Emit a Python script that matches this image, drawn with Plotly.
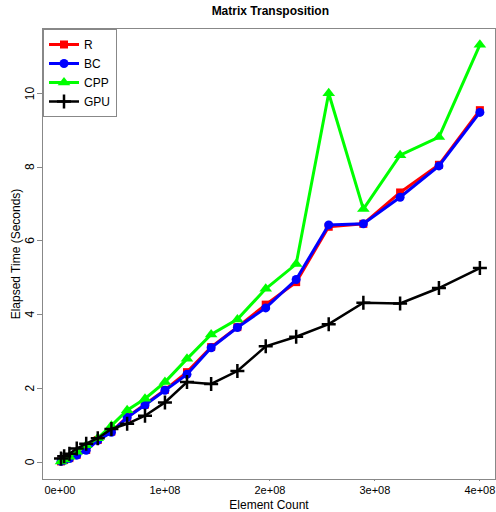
import plotly.graph_objects as go

element_count = [1e6, 4e6, 9e6, 1.6e7, 2.5e7, 3.6e7, 4.9e7, 6.4e7, 8.1e7, 1.0e8,
                 1.21e8, 1.44e8, 1.69e8, 1.96e8, 2.25e8, 2.56e8, 2.89e8, 3.24e8, 3.61e8, 4.0e8]

r_vals   = [0.02, 0.06, 0.11, 0.20, 0.33, 0.60, 0.83, 1.22, 1.56, 1.96,
            2.44, 3.12, 3.66, 4.27, 4.88, 6.38, 6.46, 7.31, 8.06, 9.54]
bc_vals  = [0.02, 0.05, 0.10, 0.19, 0.32, 0.59, 0.81, 1.21, 1.55, 1.95,
            2.38, 3.10, 3.65, 4.18, 4.95, 6.43, 6.46, 7.18, 8.03, 9.48]
cpp_vals = [0.02, 0.07, 0.15, 0.28, 0.46, 0.65, 0.99, 1.41, 1.72, 2.17,
            2.80, 3.46, 3.87, 4.70, 5.37, 10.0, 6.86, 8.32, 8.81, 11.31]
gpu_vals = [0.10, 0.16, 0.23, 0.37, 0.50, 0.65, 0.90, 1.04, 1.26, 1.62,
            2.17, 2.12, 2.47, 3.14, 3.40, 3.74, 4.32, 4.30, 4.72, 5.26]

x_tickvals = [0, 1e8, 2e8, 3e8, 4e8]
x_ticktext = ["0e+00", "1e+08", "2e+08", "3e+08", "4e+08"]
y_tickvals = [0, 2, 4, 6, 8, 10]
y_ticktext = ["0", "2", "4", "6", "8", "10"]

fig = go.Figure()
fig.add_trace(go.Scatter(x=element_count, y=r_vals, name="R", mode="lines+markers",
                         line=dict(color="#ff0000", width=3),
                         marker=dict(symbol="square", size=8, color="#ff0000")))
fig.add_trace(go.Scatter(x=element_count, y=bc_vals, name="BC", mode="lines+markers",
                         line=dict(color="#0000ff", width=3),
                         marker=dict(symbol="circle", size=9, color="#0000ff")))
fig.add_trace(go.Scatter(x=element_count, y=cpp_vals, name="CPP", mode="lines+markers",
                         line=dict(color="#00ff00", width=3),
                         marker=dict(symbol="triangle-up", size=11, color="#00ff00")))
fig.add_trace(go.Scatter(x=element_count, y=gpu_vals, name="GPU", mode="lines+markers",
                         line=dict(color="#000000", width=2.5),
                         marker=dict(symbol="cross-thin", size=10, color="#000000",
                                     line=dict(color="#000000", width=2.5))))

# rotated y tick labels (R style, reading bottom-to-top)
annotations = [
    dict(x=0, xref="paper", y=v, yref="y", text=t, textangle=-90, showarrow=False,
         xanchor="center", yanchor="middle", xshift=-13,
         font=dict(size=12, color="#000000"))
    for v, t in zip(y_tickvals, y_ticktext)
]

fig.update_layout(
    width=496, height=512,
    margin=dict(l=43, r=0, t=29, b=28),
    paper_bgcolor="white", plot_bgcolor="white",
    font=dict(family="Liberation Sans, Arial, sans-serif", size=12, color="#000000"),
    title=dict(text="<b>Matrix Transposition</b>", x=0.545, xanchor="center",
               y=0.978, yanchor="middle", font=dict(size=12)),
    showlegend=True,
    legend=dict(x=0, y=1, xanchor="left", yanchor="top",
                bordercolor="#888888", borderwidth=1, bgcolor="white",
                font=dict(size=12), tracegroupgap=0, itemwidth=30),
    annotations=annotations,
)
fig.update_xaxes(range=[-1.616e7, 4.144e8], tickvals=x_tickvals, ticktext=x_ticktext,
                 ticklabeloverflow="allow",
                 showgrid=False, zeroline=False, showline=True, mirror=True,
                 linecolor="#888888", linewidth=1, ticks="outside", ticklen=1,
                 tickcolor="#888888", tickfont=dict(size=11),
                 title=dict(text="Element Count", standoff=7, font=dict(size=12)))
fig.update_yaxes(range=[-0.456, 11.74], tickvals=y_tickvals, showticklabels=False,
                 showgrid=False, zeroline=False, showline=True, mirror=True,
                 linecolor="#888888", linewidth=1, ticks="outside", ticklen=5,
                 tickcolor="#888888",
                 title=dict(text="Elapsed Time (Seconds)", standoff=13, font=dict(size=12)))

fig.write_html("out.html")
